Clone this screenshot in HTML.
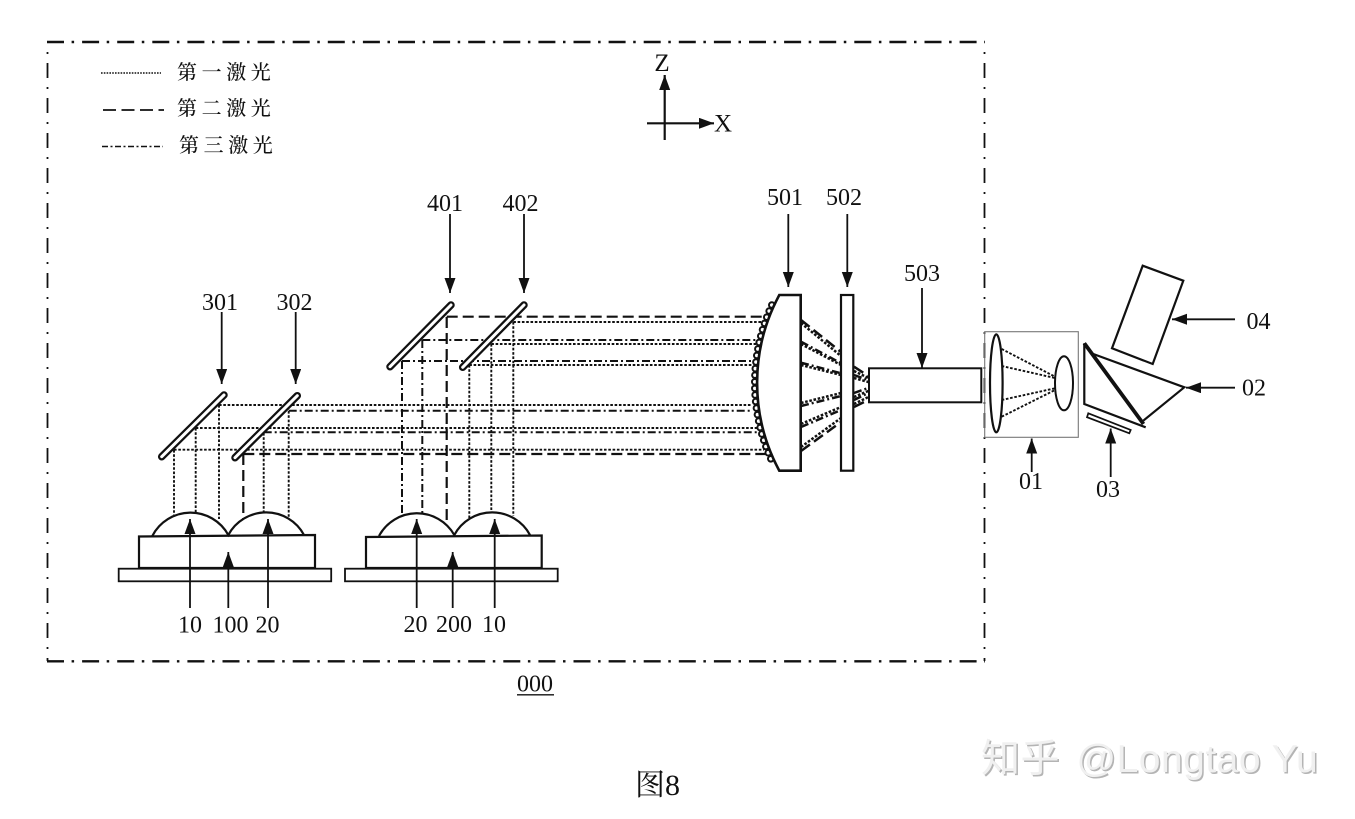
<!DOCTYPE html>
<html><head><meta charset="utf-8"><style>
html,body{margin:0;padding:0;background:#fff;width:1355px;height:819px;overflow:hidden}
svg{display:block}
text{font-family:"Liberation Serif","Noto Serif CJK SC",serif;font-size:24px;fill:#111}
.m{text-anchor:middle}
.b{fill:none;stroke:#111;stroke-width:2.2}
.t{fill:none;stroke:#111;stroke-width:1.8}
.d{fill:none;stroke:#111;stroke-width:1.9;stroke-dasharray:2.6 1.7}
.h{fill:none;stroke:#111;stroke-width:2.2;stroke-dasharray:11 5}
.c{fill:none;stroke:#111;stroke-width:2;stroke-dasharray:8 3 2 3}
.k .d,.k .c,.k .h{stroke-width:2.5}
.cn{font-size:20px;letter-spacing:4.6px;font-weight:500}
.w{font-family:"Liberation Sans","Noto Sans CJK SC",sans-serif;font-size:39px;letter-spacing:.5px}
</style></head><body>
<svg width="1355" height="819" viewBox="0 0 1355 819" xmlns="http://www.w3.org/2000/svg">
<defs>
<marker id="a" markerUnits="userSpaceOnUse" markerWidth="16" markerHeight="12" refX="15" refY="5.5" orient="auto"><path d="M0 0L15 5.5L0 11Z" fill="#111"/></marker>
</defs>
<rect width="1355" height="819" fill="#fff"/>

<!-- frame -->
<path d="M47 42H985" fill="none" stroke="#111" stroke-width="2.4" stroke-dasharray="17 7.6 2.5 8"/>
<path d="M47 661.3H985" fill="none" stroke="#111" stroke-width="2.4" stroke-dasharray="17 7.6 2.5 8"/>
<path d="M47.5 44V661" fill="none" stroke="#111" stroke-width="1.8" stroke-dasharray="15 9 2 9" stroke-dashoffset="16"/>
<path d="M984.5 44V661" fill="none" stroke="#111" stroke-width="1.8" stroke-dasharray="15 9 2 9" stroke-dashoffset="16"/>

<!-- legend -->
<path d="M101 73H161" fill="none" stroke="#111" stroke-width="1.6" stroke-dasharray="1.6 1.2"/>
<path d="M103 110H164" fill="none" stroke="#111" stroke-width="1.8" stroke-dasharray="13 5.5"/>
<path d="M102 146.5H163" fill="none" stroke="#111" stroke-width="1.6" stroke-dasharray="6 2.5 2 2.5"/>
<text class="cn" x="177" y="79">第一激光</text>
<text class="cn" x="177" y="115">第二激光</text>
<text class="cn" x="179" y="152">第三激光</text>

<!-- axes -->
<path class="b" d="M664.7 140V75" marker-end="url(#a)"/>
<path class="b" d="M647 123.3H714" marker-end="url(#a)"/>
<text class="m" x="662" y="71" style="font-size:25px">Z</text>
<text class="m" x="723" y="131.5" style="font-size:25px">X</text>

<!-- horizontal beams lower -->
<path class="d" d="M219 405H752"/>
<path class="c" d="M288.7 410.7H751"/>
<path class="d" d="M195.7 428H757"/>
<path class="c" d="M263.7 432.3H758"/>
<path class="d" d="M174 449.7H764"/>
<path class="h" d="M243.3 454H766"/>
<!-- horizontal beams upper -->
<path class="h" d="M446.7 316.7H764"/>
<path class="d" d="M513.3 322H762"/>
<path class="c" d="M422.3 340H757"/>
<path class="d" d="M491.3 344H756"/>
<path class="c" d="M402 361H753"/>
<path class="d" d="M469.3 365H752"/>
<!-- vertical beams -->
<path class="d" d="M174 450V515M195.7 428V513M219 405V519M263.7 433V512M288.7 411V518"/>
<path class="h" d="M243.3 454V519"/>
<path class="c" d="M402 361V515M422.3 340V513"/>
<path class="h" d="M446.7 317V524"/>
<path class="d" d="M469.3 365V518M491.3 344V512M513.3 322V516"/>

<!-- mirrors -->
<g stroke-linecap="round">
<path d="M161.7 456.7L224 395M235 457.7L297.3 395.7M390 366.7L451 305M462.7 367.3L524 305" stroke="#111" stroke-width="7.5" fill="none"/>
<path d="M161.7 456.7L224 395M235 457.7L297.3 395.7M390 366.7L451 305M462.7 367.3L524 305" stroke="#fff" stroke-width="3" fill="none"/>
</g>

<!-- LD modules -->
<path class="b" d="M152.3 536A43 43 0 0 1 228.3 535A43 43 0 0 1 304 535"/>
<path class="b" d="M379 536A43 43 0 0 1 454.3 535A43 43 0 0 1 530 535"/>
<path class="b" d="M139 536.5L315 535V568H139Z"/>
<path class="b" d="M366 537L541.7 535.5V568H366Z"/>
<rect class="t" x="118.7" y="568.7" width="212.5" height="12.6"/>
<rect class="t" x="345" y="568.7" width="212.7" height="12.6"/>

<!-- bottom arrows -->
<path class="t" d="M190 608V519" marker-end="url(#a)"/>
<path class="t" d="M228.3 608V552" marker-end="url(#a)"/>
<path class="t" d="M268 608V519" marker-end="url(#a)"/>
<path class="t" d="M416.7 608V519" marker-end="url(#a)"/>
<path class="t" d="M452.7 608V552" marker-end="url(#a)"/>
<path class="t" d="M494.7 608V519" marker-end="url(#a)"/>
<text class="m" x="190" y="632.5">10</text>
<text class="m" x="230.5" y="632.5">100</text>
<text class="m" x="267.5" y="632.5">20</text>
<text class="m" x="415.5" y="632">20</text>
<text class="m" x="454" y="632">200</text>
<text class="m" x="494" y="632">10</text>
<text class="m" x="535" y="691.5">000</text>
<path d="M517 694.8H554" stroke="#111" stroke-width="1.3"/>

<!-- top arrows -->
<path class="t" d="M221.7 312V384" marker-end="url(#a)"/>
<path class="t" d="M295.7 312V384" marker-end="url(#a)"/>
<path class="t" d="M450 214V293" marker-end="url(#a)"/>
<path class="t" d="M524 214V293" marker-end="url(#a)"/>
<path class="t" d="M788.3 214V287" marker-end="url(#a)"/>
<path class="t" d="M847.3 214V287" marker-end="url(#a)"/>
<path class="t" d="M922 288V368" marker-end="url(#a)"/>
<text class="m" x="220" y="310">301</text>
<text class="m" x="294.5" y="310">302</text>
<text class="m" x="445" y="211">401</text>
<text class="m" x="520.5" y="211">402</text>
<text class="m" x="785" y="205">501</text>
<text class="m" x="844" y="205">502</text>
<text class="m" x="922" y="281">503</text>

<!-- lens 501 -->
<path d="M771.8 305A187 187 0 0 0 771.8 461" fill="none" stroke="#111" stroke-width="7.6" stroke-linecap="round" stroke-dasharray="0 6.6"/>
<path d="M771.8 305A187 187 0 0 0 771.8 461" fill="none" stroke="#fff" stroke-width="3.6" stroke-linecap="round" stroke-dasharray="0 6.6"/>
<path d="M779.3 295H800.7V470.7H779.3A185 185 0 0 1 779.3 295Z" fill="#fff" stroke="#111" stroke-width="2.6"/>
<!-- 502 -->
<rect x="841" y="295" width="12.3" height="175.7" fill="#fff" stroke="#111" stroke-width="2.2"/>
<!-- converging beams -->
<g class="k">
<path class="h" d="M801 320L841 352"/>
<path class="d" d="M801 323L841 356"/>
<path class="c" d="M801 341.7L841 363.3"/>
<path class="d" d="M801 344L841 365"/>
<path class="c" d="M801 362.7L841 373.3"/>
<path class="d" d="M801 365L841 375"/>
<path class="d" d="M801 403L841 393"/>
<path class="c" d="M801 406L841 396"/>
<path class="d" d="M801 424L841 407"/>
<path class="c" d="M801 427L841 410"/>
<path class="d" d="M801 447L841 418"/>
<path class="h" d="M801 451L841 422"/>
<path class="h" d="M854 366.7L868.3 376"/>
<path class="d" d="M854 371L868.3 378"/>
<path class="c" d="M854 375L868.3 380"/>
<path class="d" d="M854 378L868.3 382"/>
<path class="c" d="M854 393L868.3 388"/>
<path class="d" d="M854 397L868.3 391"/>
<path class="c" d="M854 400L868.3 393"/>
<path class="d" d="M854 404L868.3 397"/>
<path class="h" d="M854 407L868.3 400"/>
</g>
<!-- 503 -->
<rect x="869" y="368.3" width="112.3" height="34" fill="#fff" stroke="#111" stroke-width="2"/>

<!-- 01 -->
<rect x="984.7" y="331.7" width="93.6" height="105.6" fill="none" stroke="#777" stroke-width="1.1"/>
<ellipse cx="996.3" cy="383.3" rx="6.3" ry="49" fill="none" stroke="#111" stroke-width="2.2"/>
<ellipse cx="1064" cy="383.3" rx="9" ry="27" fill="none" stroke="#111" stroke-width="2"/>
<path class="d" d="M1001.7 349L1055 376.7M1001.7 366L1055 378M1001.7 400L1055 388.3M1001.7 416.7L1055 390"/>
<path class="t" d="M1031.7 472V438.5" marker-end="url(#a)"/>
<text class="m" x="1031" y="489">01</text>

<!-- prism 02 -->
<path class="b" d="M1145.7 427.3L1084.3 404V343.3"/>
<path d="M1084.3 343.3L1143.5 424" fill="none" stroke="#111" stroke-width="3.8"/>
<path class="b" d="M1093.3 354L1184.3 387.3L1143.3 420.7"/>
<path class="t" d="M1235 387.7H1186" marker-end="url(#a)"/>
<text x="1242" y="395.5">02</text>

<!-- 03 -->
<path d="M1088.3 413.3L1130.7 430L1129.3 433.3L1087 417.2Z" fill="#fff" stroke="#111" stroke-width="1.7"/>
<path class="t" d="M1110.7 477V428.5" marker-end="url(#a)"/>
<text class="m" x="1108" y="497">03</text>

<!-- 04 -->
<path class="b" d="M1142.7 265.7L1183.3 280.7L1152.7 364L1112 348.3Z"/>
<path class="t" d="M1235 319.3H1172" marker-end="url(#a)"/>
<text x="1246.5" y="329">04</text>

<!-- caption -->
<text x="635" y="795" style="font-size:30px">图8</text>

<!-- watermark -->
<text class="w" x="982.5" y="773.5" style="fill:#b4b4b4">知乎</text>
<text class="w" x="981" y="772" style="fill:#f0f0f0">知乎</text>
<text class="w" x="1078" y="773.5" style="fill:#b4b4b4">@Longtao Yu</text>
<text class="w" x="1076.5" y="772" style="fill:#f0f0f0">@Longtao Yu</text>
</svg>
</body></html>
